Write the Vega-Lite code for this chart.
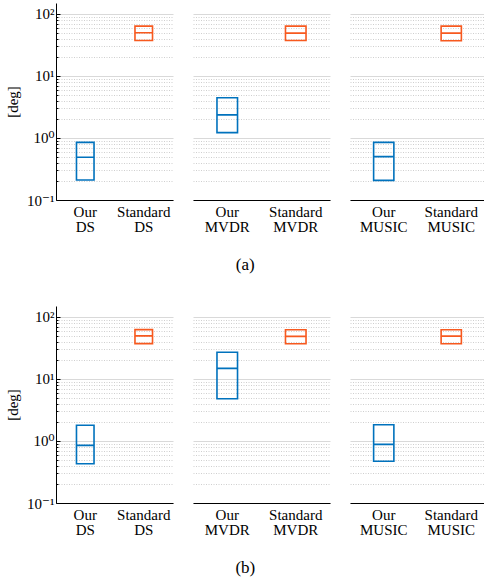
{
  "$schema": "https://vega.github.io/schema/vega-lite/v6.json",
  "background": "white",
  "padding": {"left": 5, "top": 3, "right": 0, "bottom": 5},
  "config": {
    "font": "Liberation Serif, Times New Roman, DejaVu Serif, serif",
    "view": {"stroke": null},
    "title": {"font": "Liberation Serif, Times New Roman, DejaVu Serif, serif", "fontWeight": "normal", "fontSize": 17, "color": "black"},
    "axis": {"labelFont": "Liberation Serif, Times New Roman, DejaVu Serif, serif", "titleFont": "Liberation Serif, Times New Roman, DejaVu Serif, serif", "labelFontSize": 15, "titleFontSize": 15, "labelColor": "black", "titleColor": "black", "titleFontWeight": "normal"},
    "axisX": {"ticks": false, "domainColor": "black", "domainWidth": 1, "labelAngle": 0, "labelLineHeight": 15, "labelPadding": 4, "title": null, "grid": false, "labelBaseline": "top"},
    "axisY": {
      "domainColor": "black",
      "tickColor": "black",
      "titlePadding": 6,
      "labelPadding": 6,
      "tickSize": {"condition": {"test": "abs(log(datum.value)/LN10 - round(log(datum.value)/LN10)) < 0.01", "value": -4}, "value": -2},
      "gridColor": {"condition": {"test": "abs(log(datum.value)/LN10 - round(log(datum.value)/LN10)) < 0.01", "value": "#d9d9d9"}, "value": "#cfcfcf"},
      "gridDash": {"condition": {"test": "abs(log(datum.value)/LN10 - round(log(datum.value)/LN10)) < 0.01", "value": []}, "value": [1, 1.5]},
      "gridWidth": 1,
      "values": [0.1, 0.2, 0.3, 0.4, 0.5, 0.6, 0.7, 0.8, 0.9, 1, 2, 3, 4, 5, 6, 7, 8, 9, 10, 20, 30, 40, 50, 60, 70, 80, 90, 100],
      "labelOverlap": false,
      "labelFlush": false
    }
  },
  "datasets": {
    "boxes": [
      {"row": "a", "method": "DS", "cat": "Our DS", "kind": "Our", "q1": 0.21, "med": 0.49, "q3": 0.85},
      {"row": "a", "method": "DS", "cat": "Standard DS", "kind": "Standard", "q1": 37.3, "med": 49.8, "q3": 63.5},
      {"row": "a", "method": "MVDR", "cat": "Our MVDR", "kind": "Our", "q1": 1.22, "med": 2.36, "q3": 4.45},
      {"row": "a", "method": "MVDR", "cat": "Standard MVDR", "kind": "Standard", "q1": 37.3, "med": 49, "q3": 63.5},
      {"row": "a", "method": "MUSIC", "cat": "Our MUSIC", "kind": "Our", "q1": 0.207, "med": 0.5, "q3": 0.85},
      {"row": "a", "method": "MUSIC", "cat": "Standard MUSIC", "kind": "Standard", "q1": 37, "med": 49, "q3": 63.5},
      {"row": "b", "method": "DS", "cat": "Our DS", "kind": "Our", "q1": 0.43, "med": 0.85, "q3": 1.79},
      {"row": "b", "method": "DS", "cat": "Standard DS", "kind": "Standard", "q1": 37.1, "med": 49.4, "q3": 62.4},
      {"row": "b", "method": "MVDR", "cat": "Our MVDR", "kind": "Our", "q1": 4.8, "med": 14.8, "q3": 26.9},
      {"row": "b", "method": "MVDR", "cat": "Standard MVDR", "kind": "Standard", "q1": 37, "med": 48.5, "q3": 62},
      {"row": "b", "method": "MUSIC", "cat": "Our MUSIC", "kind": "Our", "q1": 0.47, "med": 0.88, "q3": 1.83},
      {"row": "b", "method": "MUSIC", "cat": "Standard MUSIC", "kind": "Standard", "q1": 37, "med": 49, "q3": 62}
    ]
  },
  "spacing": 33,
  "vconcat": [
    {
      "title": {"text": "(a)", "orient": "bottom", "anchor": "middle", "offset": 23},
      "spacing": 20,
      "hconcat": [
        {
          "width": 117, "height": 197,
          "data": {"name": "boxes"},
          "transform": [{"filter": "datum.row == 'a' && datum.method == 'DS'"}],
          "encoding": {
            "x": {"field": "cat", "type": "nominal", "sort": null, "scale": {"paddingInner": 0.7, "paddingOuter": 0.35}, "axis": {"labelExpr": "split(datum.label, ' ')"}},
            "color": {"field": "kind", "type": "nominal", "scale": {"domain": ["Our", "Standard"], "range": ["#0072BD", "#F7591F"]}, "legend": null}
          },
          "layer": [
            {
              "mark": {"type": "bar", "filled": false, "strokeWidth": 1.6},
              "encoding": {
                "y": {"field": "q1", "type": "quantitative", "scale": {"type": "log", "domain": [0.1, 150], "nice": false},
                  "axis": {"title": "[deg]", "labelExpr": "datum.value == 100 ? '10²' : datum.value == 10 ? '10¹' : datum.value == 1 ? '10⁰' : datum.value == 0.1 ? '10⁻¹' : ''"}},
                "y2": {"field": "q3"}
              }
            },
            {
              "mark": {"type": "bar", "filled": false, "strokeWidth": 1.6},
              "encoding": {"y": {"field": "med", "type": "quantitative"}, "y2": {"field": "med"}}
            }
          ]
        },
        {
          "width": 137, "height": 197,
          "data": {"name": "boxes"},
          "transform": [{"filter": "datum.row == 'a' && datum.method == 'MVDR'"}],
          "encoding": {
            "x": {"field": "cat", "type": "nominal", "sort": null, "scale": {"paddingInner": 0.7, "paddingOuter": 0.35}, "axis": {"labelExpr": "split(datum.label, ' ')"}},
            "color": {"field": "kind", "type": "nominal", "scale": {"domain": ["Our", "Standard"], "range": ["#0072BD", "#F7591F"]}, "legend": null}
          },
          "layer": [
            {
              "mark": {"type": "bar", "filled": false, "strokeWidth": 1.6},
              "encoding": {
                "y": {"field": "q1", "type": "quantitative", "scale": {"type": "log", "domain": [0.1, 150], "nice": false},
                  "axis": {"title": null, "labels": false, "ticks": false, "domain": false}},
                "y2": {"field": "q3"}
              }
            },
            {
              "mark": {"type": "bar", "filled": false, "strokeWidth": 1.6},
              "encoding": {"y": {"field": "med", "type": "quantitative"}, "y2": {"field": "med"}}
            }
          ]
        },
        {
          "width": 135, "height": 197,
          "data": {"name": "boxes"},
          "transform": [{"filter": "datum.row == 'a' && datum.method == 'MUSIC'"}],
          "encoding": {
            "x": {"field": "cat", "type": "nominal", "sort": null, "scale": {"paddingInner": 0.7, "paddingOuter": 0.35}, "axis": {"labelExpr": "split(datum.label, ' ')"}},
            "color": {"field": "kind", "type": "nominal", "scale": {"domain": ["Our", "Standard"], "range": ["#0072BD", "#F7591F"]}, "legend": null}
          },
          "layer": [
            {
              "mark": {"type": "bar", "filled": false, "strokeWidth": 1.6},
              "encoding": {
                "y": {"field": "q1", "type": "quantitative", "scale": {"type": "log", "domain": [0.1, 150], "nice": false},
                  "axis": {"title": null, "labels": false, "ticks": false, "domain": false}},
                "y2": {"field": "q3"}
              }
            },
            {
              "mark": {"type": "bar", "filled": false, "strokeWidth": 1.6},
              "encoding": {"y": {"field": "med", "type": "quantitative"}, "y2": {"field": "med"}}
            }
          ]
        }
      ]
    },
    {
      "title": {"text": "(b)", "orient": "bottom", "anchor": "middle", "offset": 23},
      "spacing": 20,
      "hconcat": [
        {
          "width": 117, "height": 197,
          "data": {"name": "boxes"},
          "transform": [{"filter": "datum.row == 'b' && datum.method == 'DS'"}],
          "encoding": {
            "x": {"field": "cat", "type": "nominal", "sort": null, "scale": {"paddingInner": 0.7, "paddingOuter": 0.35}, "axis": {"labelExpr": "split(datum.label, ' ')"}},
            "color": {"field": "kind", "type": "nominal", "scale": {"domain": ["Our", "Standard"], "range": ["#0072BD", "#F7591F"]}, "legend": null}
          },
          "layer": [
            {
              "mark": {"type": "bar", "filled": false, "strokeWidth": 1.6},
              "encoding": {
                "y": {"field": "q1", "type": "quantitative", "scale": {"type": "log", "domain": [0.1, 150], "nice": false},
                  "axis": {"title": "[deg]", "labelExpr": "datum.value == 100 ? '10²' : datum.value == 10 ? '10¹' : datum.value == 1 ? '10⁰' : datum.value == 0.1 ? '10⁻¹' : ''"}},
                "y2": {"field": "q3"}
              }
            },
            {
              "mark": {"type": "bar", "filled": false, "strokeWidth": 1.6},
              "encoding": {"y": {"field": "med", "type": "quantitative"}, "y2": {"field": "med"}}
            }
          ]
        },
        {
          "width": 137, "height": 197,
          "data": {"name": "boxes"},
          "transform": [{"filter": "datum.row == 'b' && datum.method == 'MVDR'"}],
          "encoding": {
            "x": {"field": "cat", "type": "nominal", "sort": null, "scale": {"paddingInner": 0.7, "paddingOuter": 0.35}, "axis": {"labelExpr": "split(datum.label, ' ')"}},
            "color": {"field": "kind", "type": "nominal", "scale": {"domain": ["Our", "Standard"], "range": ["#0072BD", "#F7591F"]}, "legend": null}
          },
          "layer": [
            {
              "mark": {"type": "bar", "filled": false, "strokeWidth": 1.6},
              "encoding": {
                "y": {"field": "q1", "type": "quantitative", "scale": {"type": "log", "domain": [0.1, 150], "nice": false},
                  "axis": {"title": null, "labels": false, "ticks": false, "domain": false}},
                "y2": {"field": "q3"}
              }
            },
            {
              "mark": {"type": "bar", "filled": false, "strokeWidth": 1.6},
              "encoding": {"y": {"field": "med", "type": "quantitative"}, "y2": {"field": "med"}}
            }
          ]
        },
        {
          "width": 135, "height": 197,
          "data": {"name": "boxes"},
          "transform": [{"filter": "datum.row == 'b' && datum.method == 'MUSIC'"}],
          "encoding": {
            "x": {"field": "cat", "type": "nominal", "sort": null, "scale": {"paddingInner": 0.7, "paddingOuter": 0.35}, "axis": {"labelExpr": "split(datum.label, ' ')"}},
            "color": {"field": "kind", "type": "nominal", "scale": {"domain": ["Our", "Standard"], "range": ["#0072BD", "#F7591F"]}, "legend": null}
          },
          "layer": [
            {
              "mark": {"type": "bar", "filled": false, "strokeWidth": 1.6},
              "encoding": {
                "y": {"field": "q1", "type": "quantitative", "scale": {"type": "log", "domain": [0.1, 150], "nice": false},
                  "axis": {"title": null, "labels": false, "ticks": false, "domain": false}},
                "y2": {"field": "q3"}
              }
            },
            {
              "mark": {"type": "bar", "filled": false, "strokeWidth": 1.6},
              "encoding": {"y": {"field": "med", "type": "quantitative"}, "y2": {"field": "med"}}
            }
          ]
        }
      ]
    }
  ]
}
